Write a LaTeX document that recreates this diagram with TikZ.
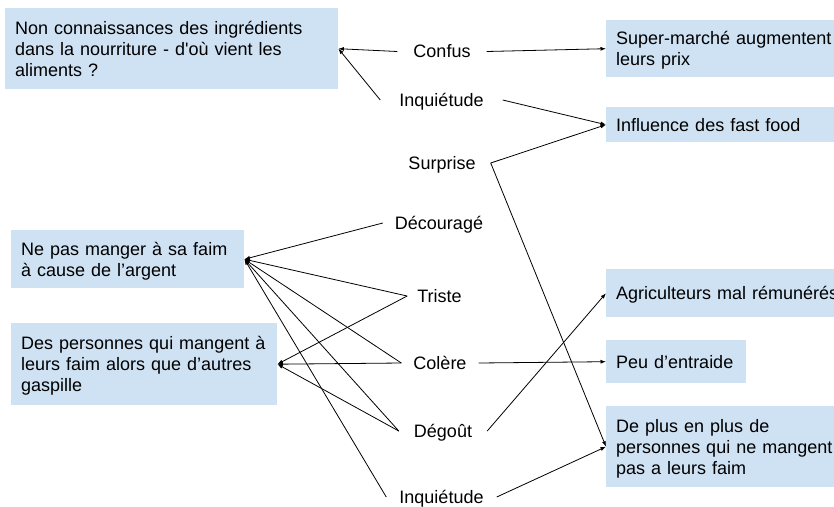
\documentclass[tikz,border=0pt]{standalone}
\usepackage{fontspec}
\setmainfont{Liberation Sans}
\usetikzlibrary{arrows.meta}
\definecolor{boxblue}{HTML}{CFE2F3}
\begin{document}
\begin{tikzpicture}[x=1pt, y=-1pt,
  cause/.style={fill=boxblue, anchor=north west, inner xsep=10pt, inner ysep=0pt,
    align=left, text height=12.9pt, text depth=#1, font=\fontsize{18pt}{21pt}\selectfont},
  cause/.default=0pt,
  feeling/.style={inner xsep=12pt, inner ysep=0pt, text height=12.9pt, text depth=0pt,
    font=\fontsize{18pt}{21pt}\selectfont},
  link/.style={line width=0.8pt, -{Latex[length=5.5pt,width=4pt]}}]
\useasboundingbox (0, 0) rectangle (834, 506);
\clip (0, 0) rectangle (834, 506);

\node (food) at (5, 8) [cause=42pt, text width=313pt, minimum height=81pt] {Non connaissances des ingrédients\\dans la nourriture - d\textquotesingle où vient les\\aliments ?};
\node (prices) at (606, 20) [cause=21pt, text width=250pt, minimum height=57pt] {Super-marché augmentent\\leurs prix};
\node (fastfood) at (606, 107) [cause, text width=250pt, minimum height=35pt] {Influence des fast food};
\node (money) at (11, 230) [cause=21pt, text width=213pt, minimum height=58pt] {Ne pas manger à sa faim\\à cause de l’argent};
\node (waste) at (11, 323) [cause=42pt, text width=246pt, minimum height=82pt] {Des personnes qui mangent à\\leurs faim alors que d’autres\\gaspille};
\node (farmers) at (606, 269) [cause, text width=250pt, minimum height=48pt] {Agriculteurs mal rémunérés};
\node (help) at (606, 340) [cause, text width=120pt, minimum height=43pt] {Peu d’entraide};
\node (hunger) at (606, 406) [cause=42pt, text width=250pt, minimum height=81pt] {De plus en plus de\\personnes qui ne mangent\\pas a leurs faim};

\node (confus) at (442, 51.5) [feeling, inner xsep=16pt] {Confus};
\node (worryA) at (441.5, 100) [feeling, inner xsep=19pt] {Inquiétude};
\node (surprise) at (442, 163) [feeling, inner xsep=15pt] {Surprise};
\node (discouraged) at (439, 223) [feeling] {Découragé};
\node (sad) at (439.5, 296) [feeling, inner xsep=10pt] {Triste};
\node (anger) at (440, 363) [feeling] {Colère};
\node (disgust) at (443, 431) [feeling, inner xsep=15pt] {Dégoût};
\node (worryB) at (441.5, 497) [feeling, inner xsep=13pt] {Inquiétude};

\draw [link] (confus.west) -- (food.east);
\draw [link] (worryA.west) -- (food.east);
\draw [link] (confus.east) -- (prices.west);
\draw [link] (worryA.east) -- (fastfood.west);
\draw [link] (surprise.east) -- (fastfood.west);
\draw [link] (surprise.east) -- (hunger.west);
\draw [link] (discouraged.west) -- (money.east);
\draw [link] (sad.west) -- (money.east);
\draw [link] (sad.west) -- (waste.east);
\draw [link] (anger.west) -- (money.east);
\draw [link] (anger.west) -- (waste.east);
\draw [link] (anger.east) -- (help.west);
\draw [link] (disgust.west) -- (money.east);
\draw [link] (disgust.west) -- (waste.east);
\draw [link] (disgust.east) -- (farmers.west);
\draw [link] (worryB.west) -- (money.east);
\draw [link] (worryB.east) -- (hunger.west);
\end{tikzpicture}
\end{document}
